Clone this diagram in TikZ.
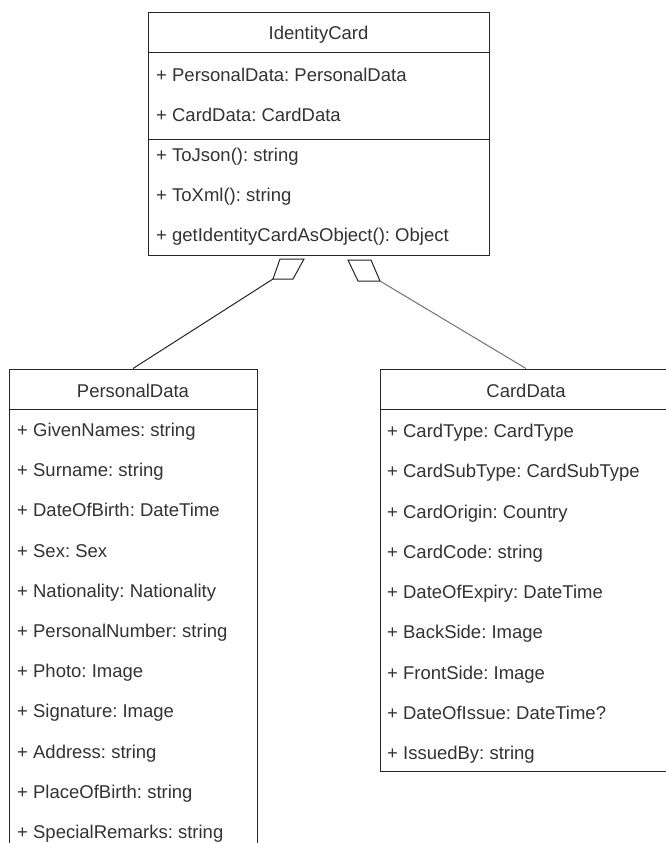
\documentclass[tikz,border=0pt]{standalone}
\usepackage{fontspec}
\setmainfont{Liberation Sans}
\usepackage{tikz}
\usetikzlibrary{calc}
\usetikzlibrary{positioning}
\frenchspacing

\begin{document}
\begin{tikzpicture}[
		x=1pt, y=-1pt,
		classbox/.style={draw=black!85, line width=1pt, fill=white, inner sep=0pt},
		title/.style={anchor=base, inner sep=0pt, text=black!80, font=\fontsize{18.5}{22}\selectfont},
		member/.style={anchor=base west, inner sep=0pt, text=black!80, font=\fontsize{18.5}{22}\selectfont},
		divider/.style={draw=black!85, line width=1pt},
		agg/.style={draw=black!85, line width=1pt, fill=white, line join=miter},
		link/.style={draw=black!85, line width=1pt}
		]
		
		\useasboundingbox (0,0) rectangle (665,843);
		\fill[white] (0,0) rectangle (665,843);
		
		% Class boxes
		\node[classbox, minimum width=341, minimum height=242] (idcard) at (318.5,134) {};
		\node[classbox, minimum width=248, minimum height=483] (pdata) at (133,610.5) {};
		\node[classbox, minimum width=292, minimum height=402] (cdata) at (526,570) {};
		
		% Compartment lines
		\draw[divider] ([yshift=-40]idcard.north west) -- ([yshift=-40]idcard.north east);
		\draw[divider] ([yshift=-127]idcard.north west) -- ([yshift=-127]idcard.north east);
		\draw[divider] ([yshift=-41]pdata.north west) -- ([yshift=-41]pdata.north east);
		\draw[divider] ([yshift=-41]cdata.north west) -- ([yshift=-41]cdata.north east);
		
		% IdentityCard
		\node[title] (idcard-t) at (318.5,39.5) {IdentityCard};
		\node[member] (idcard-1) at (156,81.5) {+ PersonalData: PersonalData};
		\node[member] (idcard-2) at (156,121.5) {+ CardData: CardData};
		\node[member] (idcard-3) at (156,161.5) {+ ToJson(): string};
		\node[member] (idcard-4) at (156,201.5) {+ ToXml(): string};
		\node[member] (idcard-5) at (156,241.5) {+ getIdentityCardAsObject(): Object};
		
		% PersonalData
		\node[title] (pdata-t) at (133,397.5) {PersonalData};
		\node[member] (pdata-1) at (17,436.5) {+ GivenNames: string};
		\node[member] (pdata-2) at (17,476.7) {+ Surname: string};
		\node[member] (pdata-3) at (17,516.9) {+ DateOfBirth: DateTime};
		\node[member] (pdata-4) at (17,557.1) {+ Sex: Sex};
		\node[member] (pdata-5) at (17,597.3) {+ Nationality: Nationality};
		\node[member] (pdata-6) at (17,637.5) {+ PersonalNumber: string};
		\node[member] (pdata-7) at (17,677.7) {+ Photo: Image};
		\node[member] (pdata-8) at (17,717.9) {+ Signature: Image};
		\node[member] (pdata-9) at (17,758.1) {+ Address: string};
		\node[member] (pdata-10) at (17,798.3) {+ PlaceOfBirth: string};
		\node[member] (pdata-11) at (17,838.5) {+ SpecialRemarks: string};
		
		% CardData
		\node[title] (cdata-t) at (526,397.5) {CardData};
		\node[member] (cdata-1) at (387,437.5) {+ CardType: CardType};
		\node[member] (cdata-2) at (387,477.75) {+ CardSubType: CardSubType};
		\node[member] (cdata-3) at (387,518) {+ CardOrigin: Country};
		\node[member] (cdata-4) at (387,558.25) {+ CardCode: string};
		\node[member] (cdata-5) at (387,598.5) {+ DateOfExpiry: DateTime};
		\node[member] (cdata-6) at (387,638.75) {+ BackSide: Image};
		\node[member] (cdata-7) at (387,679) {+ FrontSide: Image};
		\node[member] (cdata-8) at (387,719.25) {+ DateOfIssue: DateTime?};
		\node[member] (cdata-9) at (387,759.5) {+ IssuedBy: string};
		
		% Aggregation diamonds
		\coordinate (aggL) at (273,279);
		\coordinate (aggR) at (380,281);
		\draw[agg] (304,259) -- (280,259) -- (aggL) -- (293,279) -- cycle;
		\draw[agg] (348,260) -- (371,260) -- (aggR) -- (358,281) -- cycle;
		
		% Links
		\draw[link] (aggL) -- (pdata.north);
		\draw[link, draw=black!55] (aggR) -- (cdata.north);
		
	\end{tikzpicture}
\end{document}
